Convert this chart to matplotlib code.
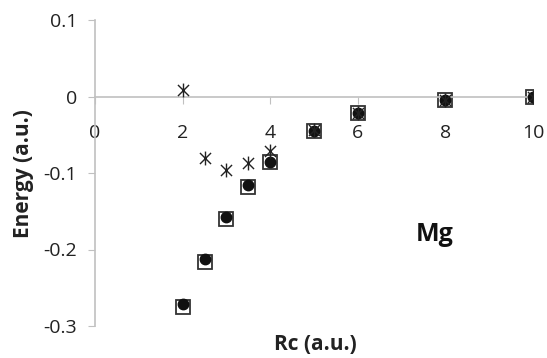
import numpy as np
import matplotlib.pyplot as plt
from matplotlib.path import Path

plt.rcParams['font.family'] = ['Open Sans', 'DejaVu Sans']

rc = [2, 2.5, 3, 3.5, 4, 5, 6, 8, 10]
e_square = [-0.275, -0.216, -0.160, -0.118, -0.086, -0.045, -0.021, -0.005, -0.001]
e_circle = [-0.271, -0.212, -0.157, -0.116, -0.085, -0.045, -0.021, -0.005, -0.001]
e_star = [0.009, -0.080, -0.096, -0.087, -0.071, -0.044, -0.021, -0.004, -0.001]

xticks = [0, 2, 4, 6, 8, 10]
yticks = [-0.3, -0.2, -0.1, 0, 0.1]
ylabels = ['-0.3', '-0.2', '-0.1', '0', '0.1']

# asterisk: vertical bar plus an x
star = Path([(0, -1), (0, 1), (-0.8, -0.8), (0.8, 0.8), (-0.8, 0.8), (0.8, -0.8)],
            [Path.MOVETO, Path.LINETO, Path.MOVETO, Path.LINETO, Path.MOVETO, Path.LINETO])

fig = plt.figure(figsize=(5.47, 3.58), dpi=100)
ax = fig.add_axes([95 / 547, 32 / 358, 438 / 547, 306 / 358])

ax.plot(rc, e_square, ls='none', marker='s', ms=10, mfc='white', mec='#333333', mew=1.3, zorder=2)
ax.plot(rc, e_circle, ls='none', marker='o', ms=7.5, mfc='#111111', mec='#111111', zorder=3)
ax.plot(rc, e_star, ls='none', marker=star, ms=10, mec='#222222', mew=1.0, zorder=4)

ax.set_xlim(0, 10)
ax.set_ylim(-0.3, 0.1)
ax.set_xticks(xticks)
ax.set_yticks(yticks)
ax.set_yticklabels(ylabels)

for s in ['top', 'right']:
    ax.spines[s].set_visible(False)
ax.spines['bottom'].set_position(('data', 0))
for s in ['left', 'bottom']:
    ax.spines[s].set_color('#c0c0c0')
    ax.spines[s].set_linewidth(1.2)
ax.tick_params(axis='x', direction='out', length=5, color='#c0c0c0', pad=15, labelsize=14,
               labelcolor='#222222')
ax.tick_params(axis='y', direction='out', length=5, color='#c0c0c0', pad=8, labelsize=14,
               labelcolor='#222222')
for lab in ax.get_xticklabels():
    lab.set_clip_on(False)

fig.text(24 / 547, 1 - 174 / 358, 'Energy (a.u.)', rotation=90, fontsize=15,
         fontweight='bold', ha='center', va='center', color='#222222')
fig.text(315 / 547, 1 - 344 / 358, 'Rc (a.u.)', fontsize=15, fontweight='bold',
         ha='center', va='center', color='#222222')
ax.text(7.76, -0.18, 'Mg', fontsize=18, fontweight='bold', ha='center', va='center',
        color='#111111')

fig.savefig('out.png', dpi=100)
